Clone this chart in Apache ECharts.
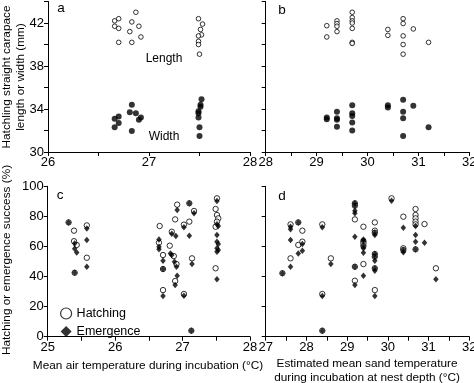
<!DOCTYPE html>
<html>
<head>
<meta charset="utf-8">
<script src="https://cdn.jsdelivr.net/npm/echarts@6/dist/echarts.min.js"></script>
<style>
html,body{margin:0;padding:0;background:#fff;}
#chart{width:474px;height:383px;}
</style>
</head>
<body>
<div id="chart"></div>
<script>
// ---- Data ----
// Panel a: x = mean air temperature (°C), y = carapace size (mm)
var aLength = [[26.66,42.2],[26.70,42.4],[26.66,41.7],[26.70,41.5],[26.70,40.2],[26.87,43.0],[26.83,42.1],[26.90,41.7],[26.81,41.2],[26.92,40.7],[26.83,40.2],
  [27.49,42.4],[27.53,41.9],[27.51,41.4],[27.52,40.9],[27.49,40.8],[27.49,40.3],[27.49,40.0],[27.50,39.1]];
var aWidth = [[26.66,33.1],[26.70,33.3],[26.66,32.3],[26.70,32.7],[26.83,34.4],[26.81,33.7],[26.87,33.6],[26.92,33.2],[26.90,33.0],[26.83,31.95],
  [27.52,34.9],[27.51,34.4],[27.51,34.2],[27.49,33.8],[27.49,33.6],[27.49,33.2],[27.50,32.3],[27.50,31.5]];
// Panel b: x = estimated sand temperature (°C)
var bLength = [[29.2,41.75],[29.2,40.7],[29.4,42.2],[29.4,41.95],[29.4,41.7],[29.4,41.2],[29.7,43.0],[29.7,42.5],[29.7,42.2],[29.7,42.0],[29.7,41.5],[29.7,40.2],[29.7,40.1],
  [30.4,41.4],[30.4,40.85],[30.7,42.4],[30.7,41.95],[30.7,40.8],[30.7,40.0],[30.7,39.1],[30.9,41.45],[31.2,40.2]];
var bWidth = [[29.2,33.2],[29.2,33.05],[29.4,33.75],[29.4,33.15],[29.4,33.0],[29.4,32.35],[29.7,34.35],[29.7,33.6],[29.7,33.35],[29.7,32.75],[29.7,32.0],
  [30.4,34.35],[30.4,34.15],[30.7,34.85],[30.7,33.75],[30.7,33.15],[30.7,31.5],[30.9,34.3],[31.2,32.3]];
// Panel c: x = mean air temperature (°C), y = success (%)
var cHatching = [[25.31,76],[25.39,70.5],[25.39,63.5],[25.43,61],[25.40,42.5],[25.58,74],[25.58,52.5],
  [26.66,73.6],[26.65,62.5],[26.71,54.3],[26.71,45],[26.71,31],[26.81,60.5],[26.84,69.8],[26.89,78],[26.87,53.6],[26.91,48.3],[26.89,37],[26.92,87.8],
  [27.02,74.5],[27.02,28.4],[27.10,88.7],[27.10,76.5],[27.14,52.1],[27.13,4],[27.17,83.6],
  [27.51,92],[27.49,84.9],[27.51,80.9],[27.53,78.7],[27.51,76.5],[27.49,73.1],[27.49,45.5]];
var cEmergence = [[25.31,76],[25.40,62],[25.40,58.5],[25.43,56],[25.40,42.5],[25.58,72],[25.58,64.3],[25.58,46.5],
  [26.65,64.7],[26.65,59.8],[26.65,58.1],[26.71,50.5],[26.71,45],[26.71,27],[26.82,55.4],[26.84,54.3],[26.84,68.4],[26.90,67],[26.88,49.9],[26.91,46.5],[26.92,40.6],[26.89,34.4],[26.92,84.2],
  [27.02,72.7],[27.02,27.2],[27.10,88.7],[27.10,67.2],[27.14,48.3],[27.13,4],[27.17,82],
  [27.51,90.2],[27.51,74.7],[27.53,73.6],[27.51,67.6],[27.51,63.2],[27.53,61.6],[27.51,58.8],[27.53,57.6],[27.51,56.5],[27.51,38.2]];
// Panel d: x = estimated sand temperature (°C), y = success (%)
var dHatching = [[27.41,42.2],[27.61,74.7],[27.61,52.1],[27.80,76],[27.80,61],[27.90,70.5],[27.90,63.2],[28.39,74.7],[28.39,28.4],[28.39,4],[28.60,52.1],
  [29.19,88.7],[29.19,87.1],[29.19,78],[29.19,46.5],[29.19,37.2],
  [29.40,73.1],[29.40,63.6],[29.40,62.1],[29.40,60.3],[29.40,48.3],
  [29.68,76],[29.68,70.5],[29.68,69.1],[29.68,55],[29.68,53.2],[29.68,45.5],[29.68,31],
  [30.09,92],[30.38,79.8],[30.38,58.8],[30.38,57.6],
  [30.68,84.9],[30.68,80.9],[30.68,78.7],[30.68,76.5],[30.68,74.7],[30.68,58.1],
  [30.90,74.9],[31.18,45.5]];
var dEmergence = [[27.41,42.2],[27.61,73.1],[27.61,71.4],[27.61,64.3],[27.61,46.5],[27.80,76],[27.80,55.4],[27.90,61.6],[27.90,57.2],[28.39,72.7],[28.39,27],[28.39,4],[28.60,48.3],
  [29.19,88.7],[29.19,87.1],[29.19,83.8],[29.19,82],[29.19,66.5],[29.19,46.5],[29.19,34.4],
  [29.40,64.7],[29.40,63.6],[29.40,60.3],[29.40,58.8],[29.40,55.9],[29.40,40.6],
  [29.68,69.1],[29.68,67.6],[29.68,55],[29.68,53.2],[29.68,50.5],[29.68,45.5],[29.68,43.9],[29.68,27],
  [30.09,90.4],[30.38,72.5],[30.38,57.6],[30.38,56.1],
  [30.68,73.6],[30.68,67.6],[30.68,63.2],[30.68,58.1],
  [30.90,62.5],[31.18,38.2]];

// Axis ranges / tick labels
var xRangeA = [26, 28], xRangeB = [28, 32], xRangeC = [25, 28], xRangeD = [27, 32];
var yRangeTop = [30, 44], yRangeBottom = [0, 100];
var yTopLabels = [30, 34, 38, 42];
var seriesNames = ['Hatching', 'Emergence'];

// ---- Chart ----
var FONT = 'Liberation Sans';
var TXT = '#000';
var chart = echarts.init(document.getElementById('chart'), null, {renderer: 'canvas'});

function xAxis(gi, range, showLabel) {
  return {
    type: 'value', gridIndex: gi, min: range[0], max: range[1], interval: 0.5,
    axisLine: {show: true, onZero: false, lineStyle: {color: '#000', width: 1}},
    axisTick: {show: true, length: 4, lineStyle: {color: '#000', width: 1}},
    splitLine: {show: false},
    axisLabel: {show: showLabel, margin: 4, color: TXT, fontFamily: FONT, fontSize: 13,
      showMinLabel: true, showMaxLabel: true,
      formatter: function (v) { return Math.abs(v - Math.round(v)) < 1e-6 ? String(Math.round(v)) : ''; }}
  };
}
function yAxis(gi, range, interval, showLabel, fmt) {
  return {
    type: 'value', gridIndex: gi, min: range[0], max: range[1], interval: interval,
    axisLine: {show: true, onZero: false, lineStyle: {color: '#000', width: 1}},
    axisTick: {show: true, length: 4, lineStyle: {color: '#000', width: 1}},
    splitLine: {show: false},
    axisLabel: {show: showLabel, margin: 4, color: TXT, fontFamily: FONT, fontSize: 13,
      showMinLabel: true, showMaxLabel: true, formatter: fmt}
  };
}
var topFmt = function (v) { return yTopLabels.indexOf(v) >= 0 ? String(v) : ''; };

var openCircle = {color: '#fff', borderColor: '#000', borderWidth: 1};
var filled = {color: '#000'};

var option = {
  animation: false,
  backgroundColor: '#fff',
  grid: [
    {left: 48, top: 1.5, width: 202, height: 150.5, outerBoundsMode: 'none'},
    {left: 265.7, top: 1.5, width: 203.6, height: 150.5, outerBoundsMode: 'none'},
    {left: 47.7, top: 186.3, width: 202.3, height: 150.4, outerBoundsMode: 'none'},
    {left: 265.7, top: 186.3, width: 203.6, height: 150.4, outerBoundsMode: 'none'}
  ],
  xAxis: [xAxis(0, xRangeA, true), xAxis(1, xRangeB, true), xAxis(2, xRangeC, true), xAxis(3, xRangeD, true)],
  yAxis: [
    yAxis(0, yRangeTop, 2, true, topFmt),
    yAxis(1, yRangeTop, 2, false, topFmt),
    yAxis(2, yRangeBottom, 20, true, null),
    yAxis(3, yRangeBottom, 20, false, null)
  ],
  legend: {
    data: [
      {name: seriesNames[0], icon: 'circle', itemStyle: {color: '#fff', borderColor: '#000', borderWidth: 1.2}},
      {name: seriesNames[1], icon: 'diamond', itemStyle: {color: '#000', borderWidth: 0}}
    ],
    orient: 'vertical', left: 55, top: 302, itemWidth: 11, itemHeight: 11, itemGap: 5,
    selectedMode: false,
    textStyle: {color: TXT, fontFamily: FONT, fontSize: 12.5, padding: [0, 0, 0, 0]}
  },
  series: [
    {type: 'scatter', name: 'Length', xAxisIndex: 0, yAxisIndex: 0, data: aLength, symbol: 'circle', symbolSize: 4.6, itemStyle: openCircle},
    {type: 'scatter', name: 'Width', xAxisIndex: 0, yAxisIndex: 0, data: aWidth, symbol: 'circle', symbolSize: 6, itemStyle: filled},
    {type: 'scatter', name: 'Length b', xAxisIndex: 1, yAxisIndex: 1, data: bLength, symbol: 'circle', symbolSize: 4.6, itemStyle: openCircle},
    {type: 'scatter', name: 'Width b', xAxisIndex: 1, yAxisIndex: 1, data: bWidth, symbol: 'circle', symbolSize: 6, itemStyle: filled},
    {type: 'scatter', name: seriesNames[0], xAxisIndex: 2, yAxisIndex: 2, data: cHatching, symbol: 'circle', symbolSize: 5.4, itemStyle: openCircle, z: 2},
    {type: 'scatter', name: seriesNames[1], xAxisIndex: 2, yAxisIndex: 2, data: cEmergence, symbol: 'diamond', symbolSize: [5.5, 6.5], itemStyle: filled, z: 3},
    {type: 'scatter', name: seriesNames[0], xAxisIndex: 3, yAxisIndex: 3, data: dHatching, symbol: 'circle', symbolSize: 5.4, itemStyle: openCircle, z: 2},
    {type: 'scatter', name: seriesNames[1], xAxisIndex: 3, yAxisIndex: 3, data: dEmergence, symbol: 'diamond', symbolSize: [5.5, 6.5], itemStyle: filled, z: 3}
  ],
  graphic: [
    {type: 'text', x: 61, y: 8, style: {text: 'a', font: '13.5px "Liberation Sans"', fill: TXT, textAlign: 'center', textVerticalAlign: 'middle'}},
    {type: 'text', x: 282, y: 10, style: {text: 'b', font: '13.5px "Liberation Sans"', fill: TXT, textAlign: 'center', textVerticalAlign: 'middle'}},
    {type: 'text', x: 60, y: 195, style: {text: 'c', font: '13.5px "Liberation Sans"', fill: TXT, textAlign: 'center', textVerticalAlign: 'middle'}},
    {type: 'text', x: 282, y: 196, style: {text: 'd', font: '13.5px "Liberation Sans"', fill: TXT, textAlign: 'center', textVerticalAlign: 'middle'}},
    {type: 'text', x: 164, y: 59, style: {text: 'Length', font: '12px "Liberation Sans"', fill: TXT, textAlign: 'center', textVerticalAlign: 'middle'}},
    {type: 'text', x: 164, y: 137, style: {text: 'Width', font: '12px "Liberation Sans"', fill: TXT, textAlign: 'center', textVerticalAlign: 'middle'}},
    {type: 'text', x: 7, y: 77, rotation: Math.PI / 2, style: {text: 'Hatchling straight carapace', font: '11.8px "Liberation Sans"', fill: TXT, textAlign: 'center', textVerticalAlign: 'middle'}},
    {type: 'text', x: 21, y: 77, rotation: Math.PI / 2, style: {text: 'length or width (mm)', font: '11.8px "Liberation Sans"', fill: TXT, textAlign: 'center', textVerticalAlign: 'middle'}},
    {type: 'text', x: 7, y: 260, rotation: Math.PI / 2, style: {text: 'Hatching or emergence success (%)', font: '11.8px "Liberation Sans"', fill: TXT, textAlign: 'center', textVerticalAlign: 'middle'}},
    {type: 'text', x: 148, y: 366, style: {text: 'Mean air temperature during incubation (°C)', font: '11.8px "Liberation Sans"', fill: TXT, textAlign: 'center', textVerticalAlign: 'middle'}},
    {type: 'text', x: 367, y: 364, style: {text: 'Estimated mean sand temperature', font: '11.8px "Liberation Sans"', fill: TXT, textAlign: 'center', textVerticalAlign: 'middle'}},
    {type: 'text', x: 367, y: 378, style: {text: 'during incubation at nest depth (°C)', font: '11.8px "Liberation Sans"', fill: TXT, textAlign: 'center', textVerticalAlign: 'middle'}}
  ]
};
chart.setOption(option);
</script>
</body>
</html>
